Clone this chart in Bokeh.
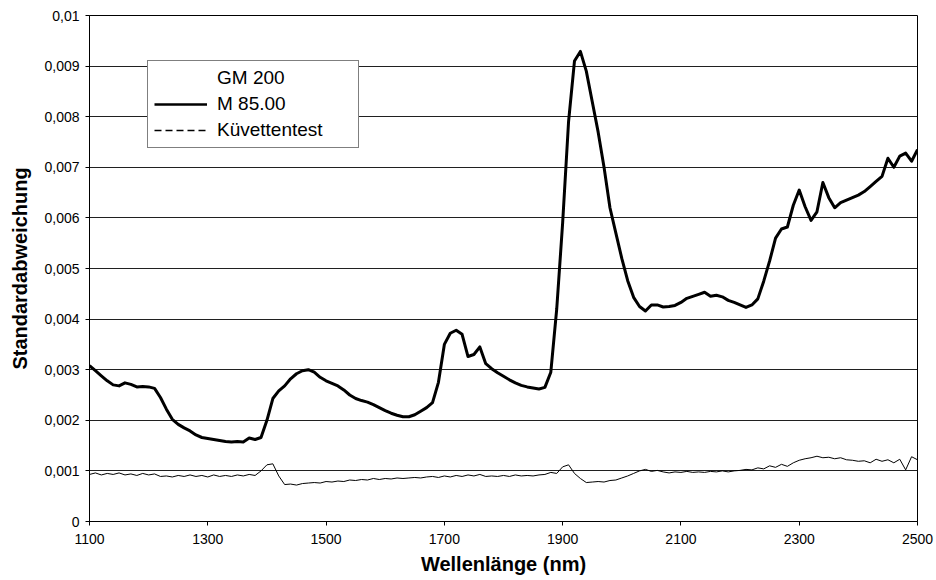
from bokeh.plotting import figure
from bokeh.models import (Range1d, FixedTicker, Legend, LegendItem,
                          ColumnDataSource)
from bokeh.embed import file_html
from bokeh.resources import INLINE

FONT = "Liberation Sans"

# Wavelength grid (nm)
wavelength = list(range(1100, 2501, 10))

# Standard deviation, sample M 85.00
m85 = [
    0.00308, 0.00298, 0.00288, 0.00278, 0.00270, 0.00268, 0.00274, 0.00271, 0.00266, 0.00267,
    0.00266, 0.00263, 0.00245, 0.00222, 0.00202, 0.00192, 0.00185, 0.00179, 0.00171, 0.00166,
    0.00164, 0.00162, 0.00160, 0.00158, 0.00157, 0.00158, 0.00157, 0.00165, 0.00162, 0.00166,
    0.00200, 0.00243, 0.00258, 0.00268, 0.00282, 0.00292, 0.00298, 0.00300, 0.00295, 0.00285,
    0.00278, 0.00273, 0.00268, 0.00260, 0.00250, 0.00243, 0.00239, 0.00236, 0.00231, 0.00225,
    0.00219, 0.00214, 0.00210, 0.00207, 0.00207, 0.00211, 0.00218, 0.00225, 0.00235, 0.00275,
    0.00350, 0.00372, 0.00378, 0.00370, 0.00326, 0.00330, 0.00345, 0.00312, 0.00302, 0.00294,
    0.00287, 0.00280, 0.00274, 0.00269, 0.00266, 0.00264, 0.00262, 0.00265, 0.00295, 0.00420,
    0.00590, 0.00790, 0.00910, 0.00929, 0.00890, 0.00830, 0.00770, 0.00700, 0.00620, 0.00570,
    0.00520, 0.00476, 0.00443, 0.00425, 0.00416, 0.00428, 0.00428, 0.00424, 0.00425, 0.00427,
    0.00433, 0.00441, 0.00445, 0.00449, 0.00453, 0.00445, 0.00447, 0.00444, 0.00437, 0.00433,
    0.00428, 0.00423, 0.00428, 0.00440, 0.00475, 0.00515, 0.00560, 0.00578, 0.00582, 0.00625,
    0.00655, 0.00622, 0.00595, 0.00612, 0.00670, 0.00640, 0.00620, 0.00630, 0.00635, 0.00640,
    0.00645, 0.00652, 0.00662, 0.00672, 0.00682, 0.00718, 0.00700, 0.00722, 0.00728, 0.00712,
    0.00735,
]

# Standard deviation, cuvette test
kuevettentest = [
    0.00093, 0.00096, 0.00092, 0.00095, 0.00093, 0.00096, 0.00092, 0.00094, 0.00091, 0.00095,
    0.00092, 0.00094, 0.00089, 0.00090, 0.00088, 0.00091, 0.00089, 0.00092, 0.00089, 0.00091,
    0.00088, 0.00092, 0.00089, 0.00091, 0.00089, 0.00092, 0.00090, 0.00093, 0.00091, 0.00100,
    0.00112, 0.00114, 0.00090, 0.00073, 0.00074, 0.00072, 0.00075, 0.00076, 0.00077, 0.00076,
    0.00079, 0.00078, 0.00080, 0.00079, 0.00082, 0.00081, 0.00083, 0.00082, 0.00085, 0.00083,
    0.00085, 0.00084, 0.00086, 0.00085, 0.00086, 0.00087, 0.00086, 0.00088, 0.00089, 0.00087,
    0.00090, 0.00088, 0.00091, 0.00089, 0.00092, 0.00090, 0.00093, 0.00089, 0.00090, 0.00089,
    0.00091, 0.00089, 0.00092, 0.00090, 0.00091, 0.00090, 0.00092, 0.00093, 0.00097, 0.00095,
    0.00108, 0.00112, 0.00095, 0.00085, 0.00077, 0.00078, 0.00079, 0.00078, 0.00081, 0.00082,
    0.00086, 0.00090, 0.00095, 0.00100, 0.00103, 0.00099, 0.00101, 0.00098, 0.00096, 0.00098,
    0.00097, 0.00099, 0.00097, 0.00098, 0.00097, 0.00099, 0.00098, 0.00100, 0.00098, 0.00100,
    0.00101, 0.00103, 0.00102, 0.00106, 0.00104, 0.00110, 0.00107, 0.00113, 0.00109, 0.00116,
    0.00121, 0.00124, 0.00126, 0.00129, 0.00126, 0.00127, 0.00124, 0.00126, 0.00122, 0.00121,
    0.00119, 0.00120, 0.00116, 0.00123, 0.00119, 0.00122, 0.00116, 0.00123, 0.00102, 0.00128,
    0.00122,
]

x_ticks = [1100, 1300, 1500, 1700, 1900, 2100, 2300, 2500]
y_ticks = [0.0, 0.001, 0.002, 0.003, 0.004, 0.005, 0.006, 0.007, 0.008, 0.009, 0.01]
y_tick_labels = ["0", "0,001", "0,002", "0,003", "0,004", "0,005",
                 "0,006", "0,007", "0,008", "0,009", "0,01"]

legend_title = "GM 200"
series_names = ["M 85.00", "Küvettentest"]

src = ColumnDataSource(dict(nm=wavelength, m85=m85, kt=kuevettentest))

p = figure(width=936, height=580, output_backend="svg", toolbar_location=None,
           x_range=Range1d(1100, 2500), y_range=Range1d(0, 0.01),
           min_border_left=89, min_border_right=19, min_border_top=15,
           min_border_bottom=59)
p.background_fill_color = "white"
p.border_fill_color = "white"
p.outline_line_color = "black"
p.outline_line_width = 1

# axes
p.xaxis.ticker = FixedTicker(ticks=x_ticks)
p.yaxis.ticker = FixedTicker(ticks=y_ticks)
p.yaxis.major_label_overrides = dict(zip(y_ticks, y_tick_labels))
for ax in (p.xaxis[0], p.yaxis[0]):
    ax.axis_line_color = "black"
    ax.axis_line_width = 1
    ax.major_tick_line_color = "black"
    ax.major_tick_out = 4
    ax.major_tick_in = 0
    ax.minor_tick_line_color = None
    ax.major_label_text_font = FONT
    ax.major_label_text_font_size = "14px"
    ax.major_label_text_color = "black"
    ax.axis_label_text_font = FONT
    ax.axis_label_text_font_style = "bold"
    ax.axis_label_text_font_size = "20px"
    ax.axis_label_text_color = "black"
p.xaxis.axis_label = "Wellenlänge (nm)"
p.yaxis.axis_label = "Standardabweichung"
p.xaxis.major_label_standoff = 8
p.yaxis.major_label_standoff = 6
p.xaxis.axis_label_standoff = 6
p.yaxis.axis_label_standoff = 10

# grid
p.xgrid.grid_line_color = None
p.ygrid.grid_line_color = "#202020"
p.ygrid.grid_line_width = 1

# data lines
p.line("nm", "kt", source=src, line_color="black", line_width=1)
p.line("nm", "m85", source=src, line_color="black", line_width=3,
       line_join="round")

# legend entries: stand-in renderers holding no drawable points
nan = float("nan")
blank = ColumnDataSource(dict(x=[nan, nan], y=[nan, nan]))
r_title = p.line("x", "y", source=blank, line_alpha=0)
r_m85 = p.line("x", "y", source=blank, line_color="black", line_width=2.5)
r_kt = p.line("x", "y", source=blank, line_color="black", line_width=1.5,
              line_dash="7 4")

legend = Legend(items=[LegendItem(label=legend_title, renderers=[r_title]),
                       LegendItem(label=series_names[0], renderers=[r_m85]),
                       LegendItem(label=series_names[1], renderers=[r_kt])],
                location=(58, 373),
                padding=6, spacing=4, margin=0,
                glyph_width=53, glyph_height=22,
                label_standoff=10, label_width=135, label_height=22,
                label_text_font=FONT, label_text_font_size="19px",
                label_text_color="black",
                border_line_color="black", border_line_width=1,
                background_fill_color="white", background_fill_alpha=1)
p.add_layout(legend, "center")

open("out.html", "w").write(file_html(p, INLINE))
